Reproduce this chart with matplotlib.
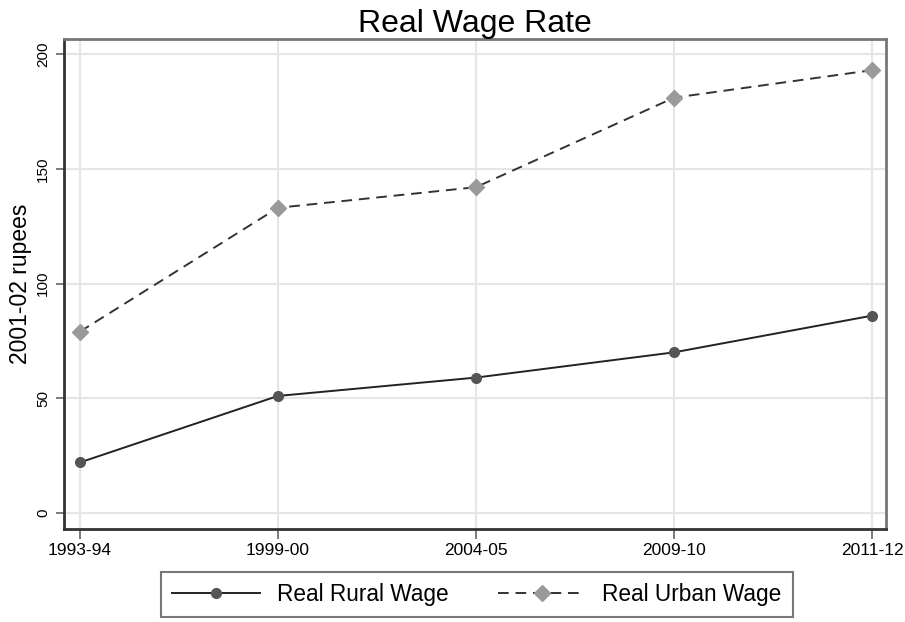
import matplotlib
matplotlib.use("Agg")
import matplotlib.pyplot as plt

plt.rcParams['font.family'] = ['Liberation Sans', 'DejaVu Sans']

periods = ["1993-94", "1999-00", "2004-05", "2009-10", "2011-12"]
rural_wage = [22, 51, 59, 70, 86]
urban_wage = [79, 133, 142, 181, 193]
yticks = [0, 50, 100, 150, 200]

fig = plt.figure(figsize=(9.05, 6.22), dpi=100)
ax = fig.add_axes([0.0707, 0.1495, 0.9083, 0.7875])

x = list(range(len(periods)))
ax.plot(x, rural_wage, color="#222222", lw=1.4, marker="o", markersize=7,
        markerfacecolor="#555555", markeredgecolor="#555555",
        label="Real Rural Wage", zorder=3)
ax.plot(x, urban_wage, color="#333333", lw=1.4, ls=(0, (5.5, 3.5)), marker="D", markersize=8,
        markerfacecolor="#9a9a9a", markeredgecolor="#9a9a9a",
        label="Real Urban Wage", zorder=3)

ax.set_xlim(-0.08, 4.07)
ax.set_ylim(-7, 206.5)
ax.set_xticks(x)
ax.set_xticklabels(periods, fontsize=12.5)
ax.set_yticks(yticks)
ax.set_yticklabels([str(v) for v in yticks], fontsize=11, rotation=90, va="center")
ax.grid(True, color="#e6e6e6", lw=1.5)
ax.set_axisbelow(True)

for s in ["left", "bottom"]:
    ax.spines[s].set_color("#333333")
    ax.spines[s].set_linewidth(2)
for s in ["top", "right"]:
    ax.spines[s].set_color("#777777")
    ax.spines[s].set_linewidth(2)
ax.tick_params(axis="x", direction="out", length=7, width=1.2, color="#666666", pad=3)
ax.tick_params(axis="y", direction="out", length=6, width=1.2, color="#666666", pad=4)

ax.set_ylabel("2001-02 rupees", fontsize=16.5, labelpad=3)
ax.set_title("Real Wage Rate", fontsize=23, pad=3)

leg = fig.legend(loc="lower center", bbox_to_anchor=(0.527, 0.004), ncol=2, fontsize=16.3,
                 frameon=True, fancybox=False, handlelength=3.85, columnspacing=2.2,
                 borderpad=0.5, borderaxespad=0.1, handletextpad=0.75)
leg.get_frame().set_edgecolor("#555555")
leg.get_frame().set_linewidth(1.5)

fig.savefig("out.png", dpi=100)
